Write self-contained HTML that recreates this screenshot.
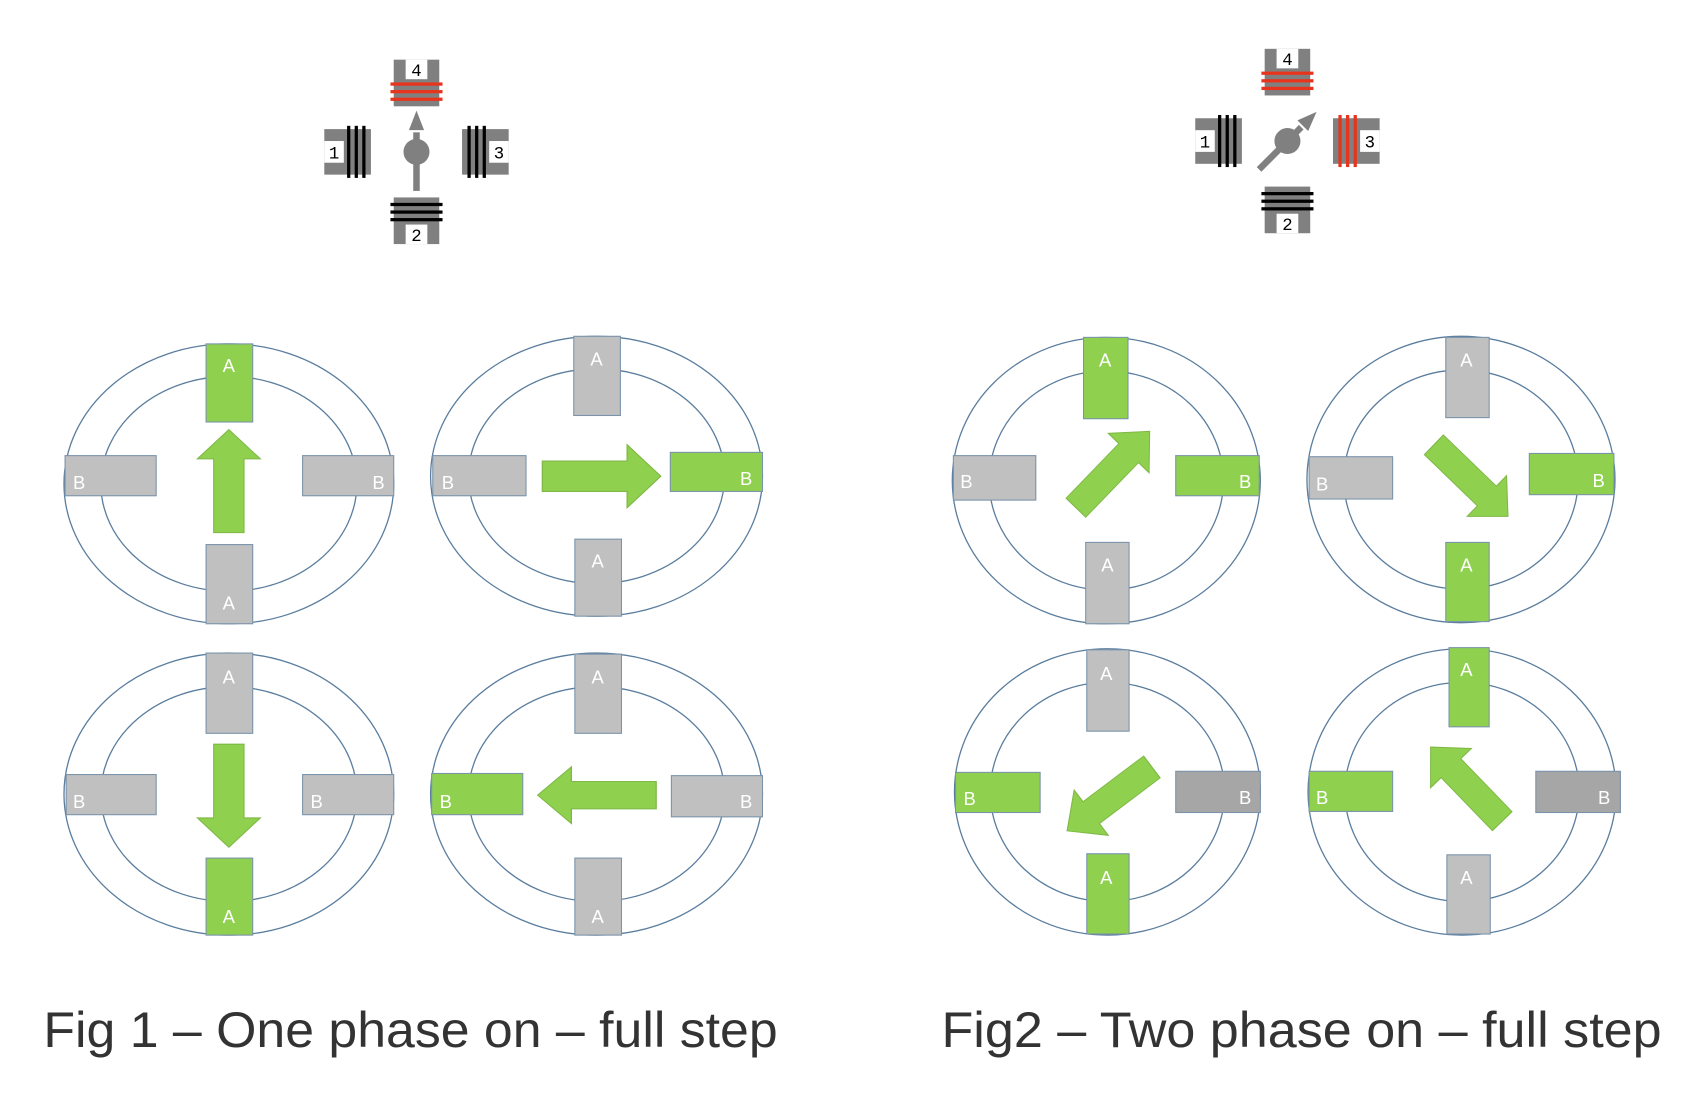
<!DOCTYPE html>
<html><head><meta charset="utf-8"><style>
html,body{margin:0;padding:0;background:#fff;}
svg{display:block}
</style></head><body>
<svg width="1692" height="1100" viewBox="0 0 1560 1014" preserveAspectRatio="none" xmlns="http://www.w3.org/2000/svg">
<defs>
<g id="pole">
  <rect x="-21" y="-85" width="42" height="43" fill="#808080"/>
  <rect x="-10" y="-85" width="20" height="18" fill="#fff"/>
</g>
<g id="coilK">
  <rect x="-24" y="-64" width="48" height="3" fill="#000"/>
  <rect x="-24" y="-57" width="48" height="3" fill="#000"/>
  <rect x="-24" y="-50" width="48" height="3" fill="#000"/>
</g>
<g id="coilR">
  <rect x="-24" y="-64" width="48" height="3" fill="#e8341c"/>
  <rect x="-24" y="-57" width="48" height="3" fill="#e8341c"/>
  <rect x="-24" y="-50" width="48" height="3" fill="#e8341c"/>
</g>
<path id="arr" d="M0,-14 L68,-14 L68,-29 L95,0 L68,29 L68,14 L0,14 Z" fill="#8fd14f" stroke="#7fb845" stroke-width="1"/>
</defs>

<g font-family="Liberation Mono, monospace" font-size="16" text-anchor="middle" fill="#000">
<g transform="translate(384,140)">
  <use href="#pole"/><use href="#coilR"/>
  <g transform="rotate(180)"><use href="#pole"/><use href="#coilK"/></g>
  <g transform="rotate(-90)"><use href="#pole"/><use href="#coilK"/></g>
  <g transform="rotate(90)"><use href="#pole"/><use href="#coilK"/></g>
  <text x="0" y="-70">4</text><text x="0" y="82">2</text>
  <text x="-76" y="6">1</text><text x="76" y="6">3</text>
  <rect x="-3" y="-18" width="6" height="54" fill="#808080"/>
  <circle cx="0" cy="0" r="12" fill="#808080"/>
  <path d="M0,-38 L-7,-20 L7,-20 Z" fill="#808080"/>
</g>
<g transform="translate(1187,130)">
  <use href="#pole"/><use href="#coilR"/>
  <g transform="rotate(180)"><use href="#pole"/><use href="#coilK"/></g>
  <g transform="rotate(-90)"><use href="#pole"/><use href="#coilK"/></g>
  <g transform="rotate(90)"><use href="#pole"/><use href="#coilR"/></g>
  <text x="0" y="-70">4</text><text x="0" y="82">2</text>
  <text x="-76" y="6">1</text><text x="76" y="6">3</text>
  <g transform="rotate(45)">
    <rect x="-3" y="-18" width="6" height="55" fill="#808080"/>
    <circle cx="0" cy="0" r="12" fill="#808080"/>
    <path d="M0,-38 L-7,-20 L7,-20 Z" fill="#808080"/>
  </g>
</g>
</g>

<g stroke="#5a7d9e" stroke-width="1.2" fill="#fff">
<ellipse cx="211" cy="446" rx="152" ry="129"/><ellipse cx="211" cy="446" rx="118" ry="99"/>
<ellipse cx="550" cy="439" rx="153" ry="129"/><ellipse cx="550" cy="439" rx="118" ry="99"/>
<ellipse cx="211" cy="732" rx="152" ry="130"/><ellipse cx="211" cy="732" rx="118" ry="99"/>
<ellipse cx="550" cy="732" rx="153" ry="130"/><ellipse cx="550" cy="732" rx="118" ry="99"/>
<ellipse cx="1020" cy="443" rx="142" ry="132"/><ellipse cx="1020" cy="443" rx="108" ry="101"/>
<ellipse cx="1347" cy="442" rx="142" ry="132"/><ellipse cx="1347" cy="442" rx="108" ry="101"/>
<ellipse cx="1021" cy="730" rx="141" ry="132"/><ellipse cx="1021" cy="730" rx="108" ry="101"/>
<ellipse cx="1348" cy="730" rx="142" ry="132"/><ellipse cx="1348" cy="730" rx="108" ry="101"/>
</g>

<g stroke="#7a93ab" stroke-width="1">
<rect x="190" y="317" width="43" height="72" fill="#8fd14f"/>
<rect x="60" y="420" width="84" height="37" fill="#c0c0c0"/>
<rect x="279" y="420" width="84" height="37" fill="#c0c0c0"/>
<rect x="190" y="502" width="43" height="73" fill="#c0c0c0"/>
<rect x="529" y="310" width="43" height="73" fill="#c0c0c0"/>
<rect x="399" y="420" width="86" height="37" fill="#c0c0c0"/>
<rect x="618" y="417" width="85" height="36" fill="#8fd14f"/>
<rect x="530" y="497" width="43" height="71" fill="#c0c0c0"/>
<rect x="190" y="602" width="43" height="74" fill="#c0c0c0"/>
<rect x="61" y="714" width="83" height="37" fill="#c0c0c0"/>
<rect x="279" y="714" width="84" height="37" fill="#c0c0c0"/>
<rect x="190" y="791" width="43" height="71" fill="#8fd14f"/>
<rect x="530" y="603" width="43" height="73" fill="#c0c0c0"/>
<rect x="398" y="713" width="84" height="38" fill="#8fd14f"/>
<rect x="619" y="715" width="84" height="38" fill="#c0c0c0"/>
<rect x="530" y="791" width="43" height="71" fill="#c0c0c0"/>
<rect x="999" y="311" width="41" height="75" fill="#8fd14f"/>
<rect x="879" y="420" width="76" height="41" fill="#c0c0c0"/>
<rect x="1084" y="420" width="77" height="37" fill="#8fd14f"/>
<rect x="1001" y="500" width="40" height="75" fill="#c0c0c0"/>
<rect x="1333" y="311" width="40" height="74" fill="#c0c0c0"/>
<rect x="1207" y="421" width="77" height="39" fill="#c0c0c0"/>
<rect x="1410" y="418" width="78" height="38" fill="#8fd14f"/>
<rect x="1333" y="500" width="40" height="73" fill="#8fd14f"/>
<rect x="1002" y="599" width="39" height="75" fill="#c0c0c0"/>
<rect x="881" y="712" width="78" height="37" fill="#8fd14f"/>
<rect x="1084" y="711" width="78" height="38" fill="#a6a6a6"/>
<rect x="1002" y="787" width="39" height="74" fill="#8fd14f"/>
<rect x="1336" y="597" width="37" height="73" fill="#8fd14f"/>
<rect x="1207" y="711" width="77" height="37" fill="#8fd14f"/>
<rect x="1416" y="711" width="78" height="38" fill="#a6a6a6"/>
<rect x="1334" y="788" width="40" height="73" fill="#c0c0c0"/>
</g>

<g font-family="Liberation Sans, sans-serif" font-size="17" fill="#fff" text-anchor="middle">
<text x="211" y="343">A</text><text x="73" y="451">B</text><text x="349" y="451">B</text><text x="211" y="562">A</text>
<text x="550" y="337">A</text><text x="413" y="451">B</text><text x="688" y="447">B</text><text x="551" y="523">A</text>
<text x="211" y="630">A</text><text x="73" y="745">B</text><text x="292" y="745">B</text><text x="211" y="851">A</text>
<text x="551" y="630">A</text><text x="411" y="745">B</text><text x="688" y="745">B</text><text x="551" y="851">A</text>
<text x="1019" y="338">A</text><text x="891" y="450">B</text><text x="1148" y="450">B</text><text x="1021" y="527">A</text>
<text x="1352" y="338">A</text><text x="1219" y="452">B</text><text x="1474" y="449">B</text><text x="1352" y="527">A</text>
<text x="1020" y="627">A</text><text x="894" y="742">B</text><text x="1148" y="741">B</text><text x="1020" y="815">A</text>
<text x="1352" y="623">A</text><text x="1219" y="741">B</text><text x="1479" y="741">B</text><text x="1352" y="815">A</text>
</g>

<use href="#arr" transform="translate(211,491) rotate(-90)"/>
<use href="#arr" transform="translate(500,439) scale(1.15,1)"/>
<use href="#arr" transform="translate(211,686) rotate(90)"/>
<use href="#arr" transform="translate(605,733) rotate(180) scale(1.15,0.9)"/>
<use href="#arr" transform="translate(992,468) rotate(-46) scale(1.03,0.9)"/>
<use href="#arr" transform="translate(1322,410) rotate(44) scale(1.0,0.9)"/>
<use href="#arr" transform="translate(1062,707) rotate(143) scale(1.03,0.9)"/>
<use href="#arr" transform="translate(1385,757) rotate(-134) scale(1.0,0.9)"/>

<g font-family="Liberation Sans, sans-serif" font-size="46" fill="#333">
<text x="40" y="965" textLength="677" lengthAdjust="spacingAndGlyphs">Fig 1 – One phase on – full step</text>
<text x="868" y="965" textLength="664" lengthAdjust="spacingAndGlyphs">Fig2 – Two phase on – full step</text>
</g>
</svg>
</body></html>
